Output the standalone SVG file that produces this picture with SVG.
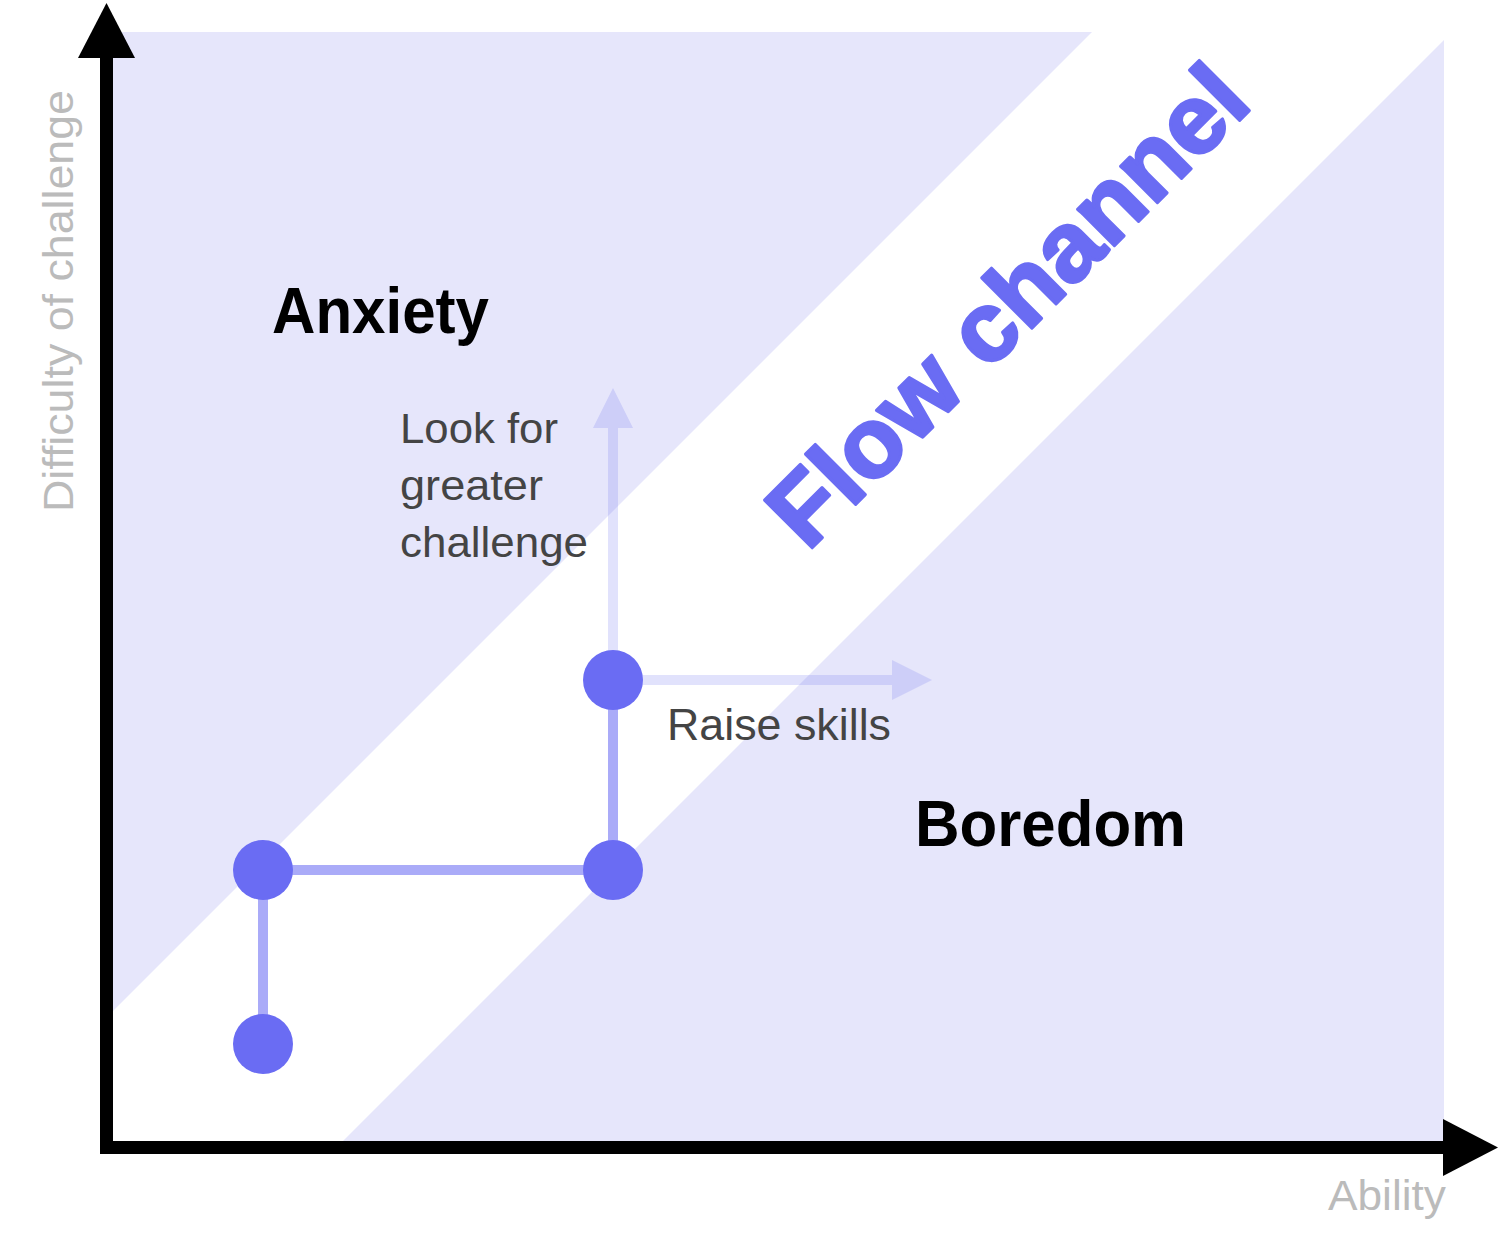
<svg xmlns="http://www.w3.org/2000/svg" width="1500" height="1250" viewBox="0 0 1500 1250">
<style>
.zone{fill:#e6e6fb}
.axis{fill:#000}
.path{stroke:#aaabf8;stroke-width:10;fill:none}
.faint{fill:#6b6cf2;fill-opacity:0.2}
.faintline{stroke:#6b6cf2;stroke-opacity:0.2;stroke-width:10;fill:none}
.dot{fill:#6a6cf3}
.big{font-family:"Liberation Sans",Arial,sans-serif;font-weight:bold;fill:#000}
.lbl{font-family:"Liberation Sans",Arial,sans-serif;fill:#444}
.axlbl{font-family:"Liberation Sans",Arial,sans-serif;fill:#bbb}
.flow{font-family:"Liberation Sans",Arial,sans-serif;font-weight:bold;fill:#6a6cf3;stroke:#6a6cf3;stroke-width:3;stroke-linejoin:round}
</style>
<rect width="1500" height="1250" fill="#fff"/>
<g id="zones">
<polygon class="zone" points="113,32 1092,32 113,1011"/>
<polygon class="zone" points="1444,40 1444,1141 343,1141"/>
</g>
<g id="flow-label">
<text class="flow" x="1031" y="329" font-size="98" text-anchor="middle" textLength="632" lengthAdjust="spacingAndGlyphs" transform="rotate(-45 1031 329)">Flow channel</text>
</g>
<g id="connectors">
<line class="faintline" x1="613" y1="680" x2="613" y2="428"/>
<polygon class="faint" points="613,388 593,428 633,428"/>
<line class="faintline" x1="613" y1="680" x2="892" y2="680"/>
<polygon class="faint" points="932,680 892,660 892,700"/>
<polyline class="path" points="263,1044 263,870 613,870 613,680"/>
</g>
<g id="axes">
<rect class="axis" x="100" y="55" width="13" height="1099"/>
<polygon class="axis" points="106.5,3 78,58 135,58"/>
<rect class="axis" x="100" y="1141" width="1346" height="13"/>
<polygon class="axis" points="1498,1147.5 1443,1119 1443,1176"/>
</g>
<g id="node-start"><circle class="dot" cx="263" cy="1044" r="30"/></g>
<g id="node-2"><circle class="dot" cx="263" cy="870" r="30"/></g>
<g id="node-3"><circle class="dot" cx="613" cy="870" r="30"/></g>
<g id="node-4"><circle class="dot" cx="613" cy="680" r="30"/></g>
<g id="labels">
<text class="big" x="272" y="333" font-size="65" textLength="217" lengthAdjust="spacingAndGlyphs">Anxiety</text>
<text class="big" x="915" y="846" font-size="64" textLength="271" lengthAdjust="spacingAndGlyphs">Boredom</text>
<text class="lbl" font-size="43">
<tspan x="400" y="443" textLength="158" lengthAdjust="spacingAndGlyphs">Look for</tspan>
<tspan x="400" y="500" textLength="143" lengthAdjust="spacingAndGlyphs">greater</tspan>
<tspan x="400" y="557" textLength="188" lengthAdjust="spacingAndGlyphs">challenge</tspan>
</text>
<text class="lbl" x="667" y="740" font-size="44" textLength="224" lengthAdjust="spacingAndGlyphs">Raise skills</text>
<text class="axlbl" x="1328" y="1210" font-size="42" textLength="118" lengthAdjust="spacingAndGlyphs">Ability</text>
<text class="axlbl" x="73" y="512" font-size="42" textLength="422" lengthAdjust="spacingAndGlyphs" transform="rotate(-90 73 512)">Difficulty of challenge</text>
</g>
</svg>
